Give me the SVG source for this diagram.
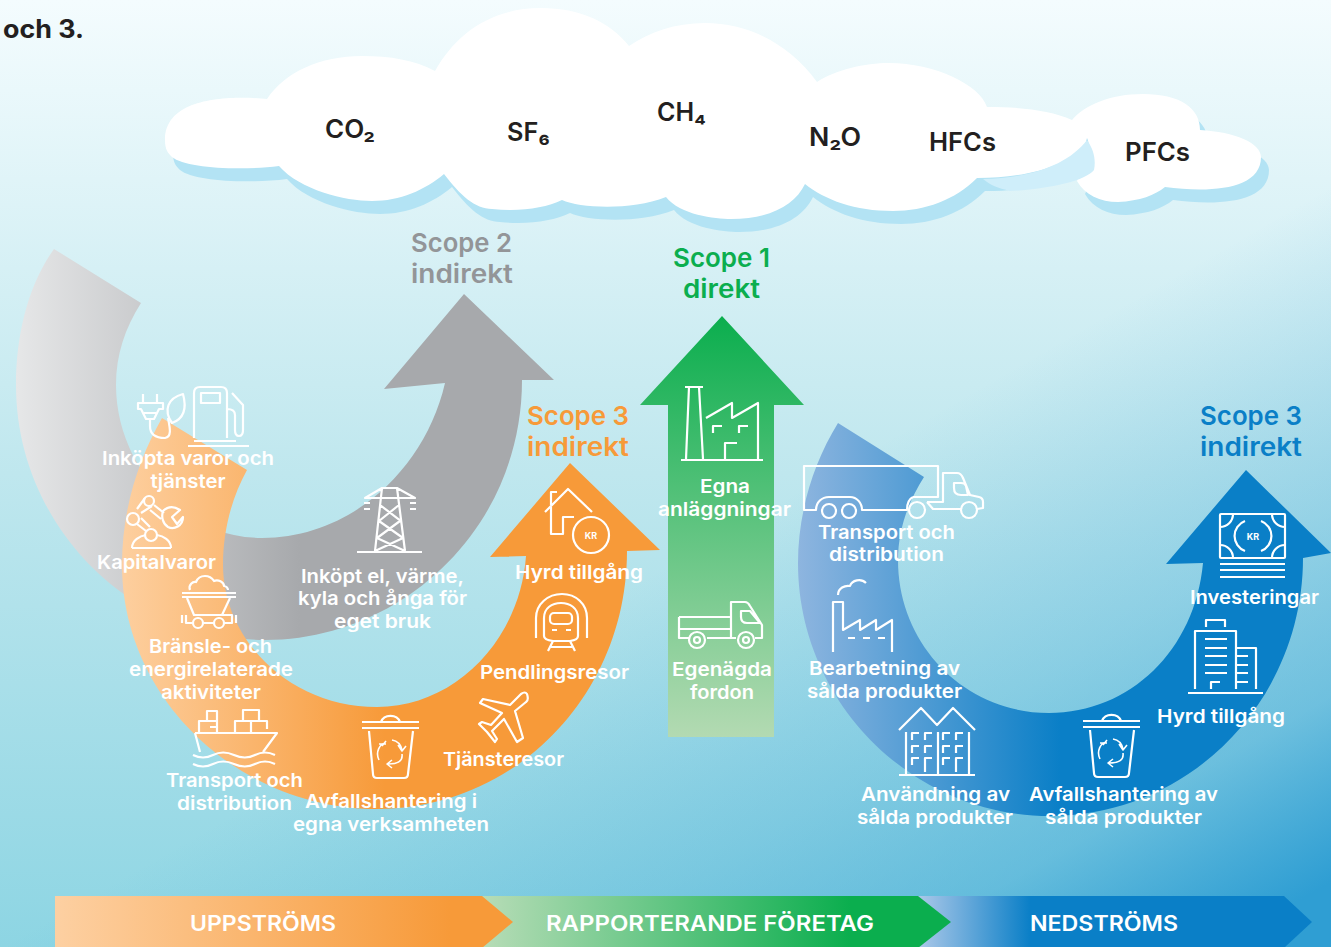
<svg xmlns="http://www.w3.org/2000/svg" xmlns:xlink="http://www.w3.org/1999/xlink" width="1331" height="947" viewBox="0 0 1331 947">
<style>
text{font-family:"Inter","Noto Sans","Liberation Sans",sans-serif}
.l{font-size:19px;font-weight:600;fill:#fff;text-anchor:middle}
.h{font-size:26px;font-weight:600;text-anchor:middle}
.g{font-size:25px;font-weight:600;fill:#231f20;text-anchor:middle}
.b{font-size:21px;font-weight:600;fill:#fff;text-anchor:middle}
.i{fill:none;stroke:#fff;stroke-width:2.2;stroke-linecap:butt;stroke-linejoin:round}
.k{font-size:9px;font-weight:700;fill:#fff;text-anchor:middle}
</style>
<defs>
<linearGradient id="bg1" x1="0" y1="0" x2="0" y2="1"><stop offset="0" stop-color="#f4fcfe"/><stop offset="0.5" stop-color="#bfe7ee"/><stop offset="1" stop-color="#8dd5e3"/></linearGradient>
<linearGradient id="bg2" gradientUnits="userSpaceOnUse" x1="900" y1="200" x2="1300" y2="900"><stop offset="0.25" stop-color="#2f9ed3" stop-opacity="0"/><stop offset="0.6" stop-color="#2f9ed3" stop-opacity="0.27"/><stop offset="0.8" stop-color="#2f9ed3" stop-opacity="0.47"/><stop offset="1" stop-color="#2f9ed3"/></linearGradient>
<linearGradient id="gy" gradientUnits="userSpaceOnUse" x1="16" y1="0" x2="300" y2="0"><stop offset="0" stop-color="#e6e7e8"/><stop offset="1" stop-color="#a7a9ac"/></linearGradient>
<linearGradient id="or" gradientUnits="userSpaceOnUse" x1="122" y1="0" x2="385" y2="0"><stop offset="0" stop-color="#fdcf9f"/><stop offset="1" stop-color="#f79a39"/></linearGradient>
<linearGradient id="gr" gradientUnits="userSpaceOnUse" x1="0" y1="316" x2="0" y2="737"><stop offset="0" stop-color="#0bae4e"/><stop offset="1" stop-color="#b3dab2"/></linearGradient>
<linearGradient id="bl" gradientUnits="userSpaceOnUse" x1="798" y1="0" x2="1060" y2="0"><stop offset="0" stop-color="#8eb5df"/><stop offset="1" stop-color="#0a7fc7"/></linearGradient>
<linearGradient id="b1" gradientUnits="userSpaceOnUse" x1="55" y1="0" x2="450" y2="0"><stop offset="0" stop-color="#fdd0a2"/><stop offset="1" stop-color="#f79a39"/></linearGradient>
<linearGradient id="b2" gradientUnits="userSpaceOnUse" x1="484" y1="0" x2="850" y2="0"><stop offset="0" stop-color="#b6dcb6"/><stop offset="1" stop-color="#0bae4e"/></linearGradient>
<linearGradient id="b3" gradientUnits="userSpaceOnUse" x1="920" y1="0" x2="1030" y2="0"><stop offset="0" stop-color="#a9c7e8"/><stop offset="1" stop-color="#0a7fc7"/></linearGradient>
<path id="cloud" d="M267,99 C245,97 165,92 165,140 C165,150 168,153 172,157 C185,168 240,171 279,166 C300,190 345,201 372,201 C400,201 425,190 444,174 C460,195 475,209 492,209 C520,212 545,208 562,200 C580,208 630,211 666,197 C680,215 715,219 731,219 C770,219 795,205 805,184 C825,200 855,211 893,211 C925,211 955,200 977,178 C1030,178 1068,165 1085,145 L1087,138 C1092,148 1085,165 1077,181 C1085,195 1100,202 1118,202 C1140,201 1155,195 1165,187 C1210,193 1261,190 1261,157 C1261,143 1235,132 1200,130 C1200,108 1180,94 1143,94 C1110,94 1085,105 1072,120 C1050,110 1020,107 987,107 C980,85 935,63 889,63 C865,63 835,70 817,82 C790,45 750,23 705,23 C675,23 650,32 629,46 C610,22 580,8 541,8 C490,8 455,35 435,71 C415,60 390,56 362,56 C320,56 285,72 267,99 Z"/>
<g id="trash"><path class="i" d="M362,722 H419 M362,728 H419 M381,722 A10,9 0 0 1 400,722 M369,731 L373,774 Q373,778 377,778 H404 Q408,778 408,774 L413,731"/>
<path class="i" style="stroke-width:1.6" d="M379,760 C375,752 380,744 385,743 M382,746 L386,741 M379,744 L386,744 M392,740 C398,741 401,745 402,750 M398,745 L402,751 L406,746 M402,754 C403,761 398,764 388,764 M392,760 L387,764 L392,768"/></g>
</defs>

<g id="background">
<rect width="1331" height="947" fill="url(#bg1)"/>
<rect width="1331" height="947" fill="url(#bg2)"/>
<text x="3" y="38" font-size="25" font-weight="700" fill="#231f20" textLength="81" lengthAdjust="spacingAndGlyphs">och 3.</text>
</g>

<g id="clouds">
<use xlink:href="#cloud" href="#cloud" x="8" y="13" fill="#b3e3f4"/>
<use xlink:href="#cloud" href="#cloud" fill="#fff"/>
<path d="M983,179 C1030,178 1068,165 1087,140 C1094,150 1096,160 1094,170 C1085,181 1050,189 1010,191 C998,188 990,185 983,179 Z" fill="#cfeefa"/>
<text class="g" x="350" y="138" textLength="50" lengthAdjust="spacingAndGlyphs">CO₂</text>
<text class="g" x="528.500" y="141" textLength="43" lengthAdjust="spacingAndGlyphs">SF₆</text>
<text class="g" x="681.500" y="121" textLength="49" lengthAdjust="spacingAndGlyphs">CH₄</text>
<text class="g" x="835" y="146" textLength="52" lengthAdjust="spacingAndGlyphs">N₂O</text>
<text class="g" x="962.500" y="151" textLength="67" lengthAdjust="spacingAndGlyphs">HFCs</text>
<text class="g" x="1157.500" y="161" textLength="65" lengthAdjust="spacingAndGlyphs">PFCs</text>
</g>

<g id="connectors">
<path id="arrow-scope2" fill="url(#gy)" d="M54,249 C28,285 16,335 16,385 C16,525 130,640 265,640 C400,640 522,530 522,380 L554,380 L464,294 L384,389 L445,383 C425,470 350,538 262,538 C180,538 116,465 116,385 C116,355 125,328 141,303 Z"/>
<path id="arrow-scope3-up" fill="url(#or)" d="M162,418 C138,460 122,510 122,565 C122,700 240,809 377,809 C515,809 627,695 627,551 L660,550 L570,463 L490,557 L526,556 C520,640 455,707 377,707 C290,707 223,640 223,565 C223,530 232,497 247,470 Z"/>
<path id="arrow-scope1" fill="url(#gr)" d="M722,316 L804,405 H774 V737 H668 V405 H640 Z"/>
<path id="arrow-scope3-down" fill="url(#bl)" d="M838,423 C812,465 798,515 798,563 C798,700 910,816 1050,816 C1190,816 1303,700 1303,558 L1331,553 L1246,470 L1166,564 L1203,563 C1195,650 1130,713 1049,713 C965,713 898,645 898,560 C898,530 908,502 924,477 Z"/>
</g>

<g id="n-scope2"><text class="h" fill="#939598" x="461.500" y="252" textLength="101" lengthAdjust="spacingAndGlyphs">Scope 2</text><text class="h" fill="#939598" x="462" y="283" textLength="102" lengthAdjust="spacingAndGlyphs">indirekt</text></g>
<g id="n-scope1"><text class="h" fill="#0bae4e" x="721.500" y="267" textLength="97" lengthAdjust="spacingAndGlyphs">Scope 1</text><text class="h" fill="#0bae4e" x="721.500" y="298" textLength="77" lengthAdjust="spacingAndGlyphs">direkt</text></g>
<g id="n-scope3a"><text class="h" fill="#f79a39" x="578" y="425" textLength="102" lengthAdjust="spacingAndGlyphs">Scope 3</text><text class="h" fill="#f79a39" x="578" y="456" textLength="102" lengthAdjust="spacingAndGlyphs">indirekt</text></g>
<g id="n-scope3b"><text class="h" fill="#0a7fc7" x="1251" y="425" textLength="102" lengthAdjust="spacingAndGlyphs">Scope 3</text><text class="h" fill="#0a7fc7" x="1251" y="456" textLength="102" lengthAdjust="spacingAndGlyphs">indirekt</text></g>

<g id="n-inkopta">
<path class="i" d="M143,394 V403 M157,394 V403 M138,403 H163 V409 H159 L154,419 H146 L141,409 H138 Z M144,413 H156 M150,420 V426 C150,436 158,438 165,438 C172,437 170,428 168,418"/>
<path class="i" d="M172,423 C163,410 168,398 183,394 C186,405 186,418 172,423 Z"/>
<path class="i" d="M194,438 V393 Q194,387 200,387 H221 Q227,387 227,393 V438 M201,393 H220 V403 H201 Z M232,393 L243,405 V430 Q243,436 239,436 Q235,436 235,430 V415 Q235,409 227,409 M188,446 H249 M194,441 H236"/>
<text class="l" x="188" y="465" textLength="172" lengthAdjust="spacingAndGlyphs">Inköpta varor och</text><text class="l" x="188" y="488" textLength="75" lengthAdjust="spacingAndGlyphs">tjänster</text>
</g>
<g id="n-kapital">
<path class="i" d="M132,548 H171 M132,548 C132,540 140,536 146,535 M171,548 C171,540 163,536 157,535"/>
<circle class="i" cx="151" cy="535" r="6"/><circle class="i" cx="149" cy="501" r="5"/><circle class="i" cx="133" cy="519" r="6"/>
<path class="i" d="M137,509 L145,498 M141,513 L152,506 M137,524 L146,531 M141,518 L150,527 M154,505 L164,513 M150,510 L161,519 M163,511 C168,506 174,506 180,510 L172,517 L177,524 L183,517 C183,526 174,530 168,527 C163,524 161,517 163,511 Z"/>
<text class="l" x="156.500" y="569" textLength="119" lengthAdjust="spacingAndGlyphs">Kapitalvaror</text>
</g>
<g id="n-bransle">
<path class="i" d="M182,593 H236 M182,597 H236 M190,590 C188,585 193,581 196,582 C198,577 202,576 205,576 C209,576 212,578 214,581 C218,579 224,582 224,586 C226,586 228,588 228,590 M187,598 L194,615 H222 L230,598 M186,615 V623 H193 M203,623 H214 M224,623 H232 V615 H222 M182,615 V623 M236,615 V623"/>
<circle class="i" cx="198" cy="623" r="5"/><circle class="i" cx="219" cy="623" r="5"/>
<text class="l" x="210.500" y="653" textLength="123" lengthAdjust="spacingAndGlyphs">Bränsle- och</text><text class="l" x="211" y="676" textLength="164" lengthAdjust="spacingAndGlyphs">energirelaterade</text><text class="l" x="211" y="699" textLength="100" lengthAdjust="spacingAndGlyphs">aktiviteter</text>
</g>
<g id="n-transport-up">
<path class="i" d="M195,733 H277 L263,752 M195,733 L200,752 M199,733 V721 H217 M207,721 V711 H217 V733 M210,727 H217 M235,733 V721 H267 V729 M243,721 V710 H259 V721 M251,721 V733"/>
<path class="i" d="M193,755 Q203,760 213,755 T234,755 T255,755 T275,755 M193,764 Q203,769 213,764 T234,764 T255,764 T275,764"/>
<text class="l" x="234.500" y="787" textLength="137" lengthAdjust="spacingAndGlyphs">Transport och</text><text class="l" x="234.500" y="810" textLength="115" lengthAdjust="spacingAndGlyphs">distribution</text>
</g>
<g id="n-avfall-up">
<use xlink:href="#trash" href="#trash"/>
<text class="l" x="391" y="808" textLength="172" lengthAdjust="spacingAndGlyphs">Avfallshantering i</text><text class="l" x="391" y="831" textLength="196" lengthAdjust="spacingAndGlyphs">egna verksamheten</text>
</g>
<g id="n-tjanste">
<path class="i" d="M527,694 Q529,700 526,702 L515,711 L523,738 L517,742 L504,719 L492,731 L497,739 L495,742 L487,732 L479,724 L482,722 L491,725 L502,713 L480,703 L483,699 L510,705 L521,694 Q525,691 527,694 Z"/>
<text class="l" x="503.500" y="766" textLength="121" lengthAdjust="spacingAndGlyphs">Tjänsteresor</text>
</g>
<g id="n-pendling">
<path class="i" d="M536,638 V618 C536,604 548,594 562,594 C576,594 587,604 587,618 V638 M544,636 V618 C544,608 552,603 561,603 C570,603 578,608 578,618 V636 Q578,640 570,641 H553 Q544,640 544,636 Z"/>
<rect class="i" x="550" y="613" width="22" height="11" rx="4"/>
<path class="i" d="M552,630 H557 M566,630 H571 M553,641 L548,651 M570,641 L575,651 M551,647 H572"/>
<text class="l" x="554.500" y="679" textLength="149" lengthAdjust="spacingAndGlyphs">Pendlingsresor</text>
</g>
<g id="n-hyrd-up">
<path class="i" d="M545,512 L568,489 L592,512 M557,492 H551 V505 M551,507 V534 H563 V517 H574"/>
<circle class="i" cx="591" cy="535" r="18"/><text class="k" x="591" y="538.500">KR</text>
<text class="l" x="579" y="579" textLength="128" lengthAdjust="spacingAndGlyphs">Hyrd tillgång</text>
</g>
<g id="n-inkopt">
<path class="i" d="M382,488 H397 L415,498 H365 Z M382,488 L375,551 M397,488 L405,551 M357,552 H422 M380,505 L401,521 M399,505 L379,521 M379,521 L403,538 M400,521 L377,538 M377,538 L405,551 M403,538 L375,551 M364,503 H370 M364,509 H370 M410,503 H416 M410,509 H416"/>
<text class="l" x="382.500" y="583" textLength="163" lengthAdjust="spacingAndGlyphs">Inköpt el, värme,</text><text class="l" x="382.500" y="605" textLength="169" lengthAdjust="spacingAndGlyphs">kyla och ånga för</text><text class="l" x="382.500" y="628" textLength="97" lengthAdjust="spacingAndGlyphs">eget bruk</text>
</g>
<g id="n-egna">
<path class="i" d="M685,387 H703 M689,387 L686,459 M699,387 L703,459 M681,460 H763 M706,418 L732,403 V418 L758,403 V459 M713,433 V426 H722 M739,433 V426 H748 M725,459 V443 H737"/>
<text class="l" x="725" y="493" textLength="50" lengthAdjust="spacingAndGlyphs">Egna</text><text class="l" x="724.500" y="516" textLength="133" lengthAdjust="spacingAndGlyphs">anläggningar</text>
</g>
<g id="n-fordon">
<path class="i" d="M679,617 H730 M679,617 V638 H689 M679,629 H730 M707,638 H736 M731,638 V602 H745 Q748,602 750,606 L762,625 V638 H755 M741,611 H750 L760,623 H747 Q741,623 741,617 Z"/>
<circle class="i" cx="697" cy="640" r="8"/><circle class="i" cx="697" cy="640" r="3"/><circle class="i" cx="746" cy="640" r="8"/><circle class="i" cx="746" cy="640" r="3"/>
<text class="l" x="722" y="676" textLength="100" lengthAdjust="spacingAndGlyphs">Egenägda</text><text class="l" x="722" y="699" textLength="64" lengthAdjust="spacingAndGlyphs">fordon</text>
</g>
<g id="n-transport-down">
<path class="i" d="M913,497 H938 V466 H804 V510 H816 C816,502 822,497 829,497 H850 C857,497 862,503 862,510 H907 C907,503 909,499 913,497 M927,502 H943 V473 H957 Q961,473 963,478 L970,495 L979,497 Q983,498 983,502 V508 L977,509 M927,502 L933,509 H961 M954,483 H961 Q965,483 966,486 L968,495 H961 Q954,495 954,488 Z"/>
<circle class="i" cx="829" cy="511" r="7"/><circle class="i" cx="849" cy="511" r="7"/><circle class="i" cx="917" cy="510" r="8"/><circle class="i" cx="969" cy="510" r="8"/>
<text class="l" x="886.500" y="539" textLength="137" lengthAdjust="spacingAndGlyphs">Transport och</text><text class="l" x="886.500" y="561" textLength="115" lengthAdjust="spacingAndGlyphs">distribution</text>
</g>
<g id="n-bearbetning">
<path class="i" d="M833,652 V602 H843 V630 L860,620 V630 L876,620 V630 L892,620 V652 M848,638 H855 M863,638 H870 M878,638 H885 M838,595 C838,588 845,585 850,586 C852,580 861,578 866,583"/>
<text class="l" x="884.500" y="675" textLength="151" lengthAdjust="spacingAndGlyphs">Bearbetning av</text><text class="l" x="884.500" y="698" textLength="155" lengthAdjust="spacingAndGlyphs">sålda produkter</text>
</g>
<g id="n-anvandning">
<path class="i" d="M899,730 L921,708 L937,725 L953,708 L975,730 M899,775 H975 M906,732 V775 M938,732 V775 M969,732 V775 M912,740 V733 H919 M925,740 V733 H932 M943,740 V733 H950 M956,740 V733 H963 M912,753 V746 H919 M925,753 V746 H932 M943,753 V746 H950 M956,753 V746 H963 M912,765 V758 H919 M925,772 V758 H932 M943,765 V758 H950 M956,772 V758 H963"/>
<text class="l" x="935.500" y="801" textLength="149" lengthAdjust="spacingAndGlyphs">Användning av</text><text class="l" x="935" y="824" textLength="156" lengthAdjust="spacingAndGlyphs">sålda produkter</text>
</g>
<g id="n-avfall-down">
<use xlink:href="#trash" href="#trash" x="721" y="-1"/>
<text class="l" x="1123.500" y="801" textLength="189" lengthAdjust="spacingAndGlyphs">Avfallshantering av</text><text class="l" x="1123.500" y="824" textLength="157" lengthAdjust="spacingAndGlyphs">sålda produkter</text>
</g>
<g id="n-hyrd-down">
<path class="i" d="M1188,693 H1263 M1195,689 V631 H1236 V689 M1206,627 V620 H1225 V627 M1205,639 H1227 M1205,648 H1227 M1205,656 H1227 M1205,665 H1227 M1205,673 H1227 M1236,648 H1256 V689 M1236,656 H1248 M1236,665 H1248 M1236,673 H1248 M1236,682 H1248 M1211,689 V682 H1220"/>
<text class="l" x="1221" y="723" textLength="128" lengthAdjust="spacingAndGlyphs">Hyrd tillgång</text>
</g>
<g id="n-invest">
<rect class="i" x="1220" y="514" width="65" height="44" rx="1"/>
<path class="i" d="M1220,527 A13,13 0 0 0 1233,514 M1272,514 A13,13 0 0 0 1285,527 M1220,545 A13,13 0 0 1 1233,558 M1272,558 A13,13 0 0 1 1285,545 M1245,521 A16,16 0 0 0 1245,551 M1261,521 A16,16 0 0 1 1261,551 M1220,564 H1285 M1220,570 H1285 M1220,577 H1285"/>
<text class="k" x="1253" y="539.500">KR</text>
<text class="l" x="1254.500" y="604" textLength="129" lengthAdjust="spacingAndGlyphs">Investeringar</text>
</g>

<g id="band">
<g id="n-nedstroms"><path fill="url(#b3)" d="M918,896 H1284 L1312,922 L1284,948 H918 Z"/><text class="b" x="1104" y="931" textLength="148" lengthAdjust="spacingAndGlyphs">NEDSTRÖMS</text></g>
<g id="n-foretag"><path fill="url(#b2)" d="M482,896 H918 L951,922 L918,948 H482 Z"/><text class="b" x="710" y="931" textLength="328" lengthAdjust="spacingAndGlyphs">RAPPORTERANDE FÖRETAG</text></g>
<g id="n-uppstroms"><path fill="url(#b1)" d="M55,896 H482 L513,922 L482,948 H55 Z"/><text class="b" x="263" y="931" textLength="146" lengthAdjust="spacingAndGlyphs">UPPSTRÖMS</text></g>
</g>
</svg>
